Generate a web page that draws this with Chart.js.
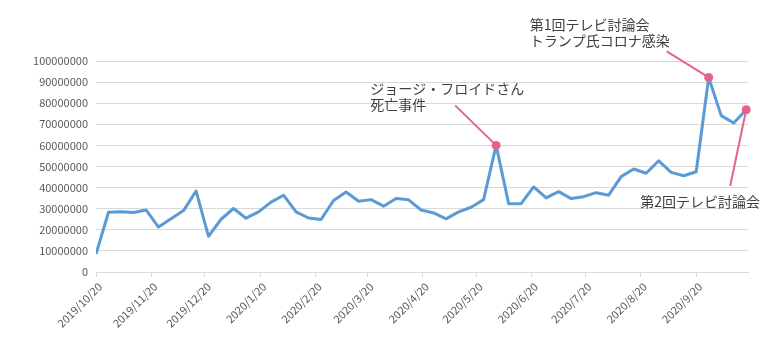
<!DOCTYPE html>
<html>
<head>
<meta charset="utf-8">
<script src="https://cdn.jsdelivr.net/npm/chart.js@4"></script>
<style>
  html, body { margin: 0; padding: 0; background: #fff; }
  #wrap { width: 780px; height: 350px; position: relative; }
</style>
</head>
<body>
<div id="wrap"><canvas id="chart"></canvas></div>
<script>
// weekly dates
const weeks = [
  '2019/10/20', '2019/10/27', '2019/11/3', '2019/11/10', '2019/11/17', '2019/11/24',
  '2019/12/1', '2019/12/8', '2019/12/15', '2019/12/22', '2019/12/29',
  '2020/1/5', '2020/1/12', '2020/1/19', '2020/1/26',
  '2020/2/2', '2020/2/9', '2020/2/16', '2020/2/23',
  '2020/3/1', '2020/3/8', '2020/3/15', '2020/3/22', '2020/3/29',
  '2020/4/5', '2020/4/12', '2020/4/19', '2020/4/26',
  '2020/5/3', '2020/5/10', '2020/5/17', '2020/5/24', '2020/5/31',
  '2020/6/7', '2020/6/14', '2020/6/21', '2020/6/28',
  '2020/7/5', '2020/7/12', '2020/7/19', '2020/7/26',
  '2020/8/2', '2020/8/9', '2020/8/16', '2020/8/23', '2020/8/30',
  '2020/9/6', '2020/9/13', '2020/9/20', '2020/9/27',
  '2020/10/4', '2020/10/11', '2020/10/18',
];

const values = [
  8500000, 28300000, 28500000, 28200000, 29400000, 21300000,
  25200000, 29100000, 38400000, 16900000, 25000000,
  30100000, 25500000, 28500000, 33100000,
  36400000, 28500000, 25600000, 24900000,
  33900000, 37900000, 33500000, 34300000, 31200000,
  34800000, 34200000, 29400000, 28000000,
  25200000, 28500000, 30700000, 34300000, 60000000,
  32400000, 32400000, 40300000, 35100000,
  38100000, 34800000, 35700000, 37600000,
  36400000, 45200000, 48800000, 46800000, 52700000,
  47200000, 45600000, 47500000, 92200000,
  74100000, 70600000, 76900000,
];

const tickLabels = [
  '2019/10/20', '2019/11/20', '2019/12/20', '2020/1/20', '2020/2/20', '2020/3/20',
  '2020/4/20', '2020/5/20', '2020/6/20', '2020/7/20', '2020/8/20', '2020/9/20',
];
const axisEnd = '2020/10/19';

// annotated weeks and their captions
const noteWeeks = ['2020/5/31', '2020/9/27', '2020/10/18'];
const noteTexts = [
  ['ジョージ・フロイドさん', '死亡事件'],
  ['第1回テレビ討論会', 'トランプ氏コロナ感染'],
  ['第2回テレビ討論会'],
];

// caption placement relative to the marker (px)
const NOTE_LAYOUT = [
  { tx: -126, ty: -57, lx: -41, ly: -40 },
  { tx: -179, ty: -53, lx: -42, ly: -26 },
  { tx: -106, ty: 92, lx: -16, ly: 76 },
];

const BLUE = '#5B9BD5';
const PINK = '#E8618C';
const GRID = '#D9D9D9';
const FONT = "'Noto Sans CJK JP', 'Noto Sans', sans-serif";

function dayOf(s) {
  const [y, m, d] = s.split('/').map(Number);
  return Date.UTC(y, m - 1, d) / 86400000;
}
const day0 = dayOf(weeks[0]);
const toX = s => dayOf(s) - day0;

const lineData = weeks.map((w, i) => ({ x: toX(w), y: values[i] }));
const noteData = noteWeeks.map(w => lineData[weeks.indexOf(w)]);
const tickDays = tickLabels.map(toX);

const notesPlugin = {
  id: 'notes',
  afterDatasetsDraw(chart) {
    const ctx = chart.ctx;
    const pts = chart.getDatasetMeta(1).data;
    ctx.save();
    pts.forEach((p, i) => {
      const L = NOTE_LAYOUT[i];
      ctx.strokeStyle = PINK;
      ctx.lineWidth = 2;
      ctx.beginPath();
      ctx.moveTo(p.x + L.lx, p.y + L.ly);
      ctx.lineTo(p.x, p.y);
      ctx.stroke();
      ctx.fillStyle = PINK;
      ctx.beginPath();
      ctx.arc(p.x, p.y, 4.5, 0, Math.PI * 2);
      ctx.fill();

      ctx.fillStyle = '#404040';
      ctx.font = '14px ' + FONT;
      ctx.textAlign = 'left';
      ctx.textBaseline = 'middle';
      noteTexts[i].forEach((t, k) => {
        ctx.fillText(t, p.x + L.tx, p.y + L.ty + k * 16.5);
      });
    });
    ctx.restore();
  }
};

new Chart(document.getElementById('chart'), {
  type: 'line',
  data: {
    datasets: [
      {
        data: lineData,
        borderColor: BLUE,
        borderWidth: 3,
        pointRadius: 0,
        tension: 0,
        fill: false,
        borderJoinStyle: 'round',
      },
      {
        data: noteData,
        showLine: false,
        pointRadius: 0,
      }
    ]
  },
  options: {
    responsive: true,
    maintainAspectRatio: false,
    animation: false,
    layout: { padding: { left: 0, right: 32, top: 61, bottom: 0 } },
    plugins: {
      legend: { display: false },
      tooltip: { enabled: false },
    },
    scales: {
      x: {
        type: 'linear',
        min: 0,
        max: toX(axisEnd),
        afterBuildTicks: scale => { scale.ticks = tickDays.map(v => ({ value: v })); },
        afterFit: scale => { scale.height = 78; },
        ticks: {
          autoSkip: false,
          maxRotation: 45,
          minRotation: 45,
          padding: 3,
          labelOffset: 4,
          color: '#595959',
          font: { family: FONT, size: 11 },
          callback: (v, i) => tickLabels[i],
        },
        grid: { drawOnChartArea: false, drawTicks: true, tickLength: 5, color: GRID },
        border: { display: true, color: GRID },
      },
      y: {
        min: 0,
        max: 100000000,
        afterFit: scale => { scale.width = 96; },
        ticks: {
          stepSize: 10000000,
          padding: 8,
          color: '#595959',
          font: { family: FONT, size: 11 },
          callback: v => String(v),
        },
        grid: { drawTicks: false, color: GRID },
        border: { display: false },
      }
    }
  },
  plugins: [notesPlugin],
});
</script>
</body>
</html>
